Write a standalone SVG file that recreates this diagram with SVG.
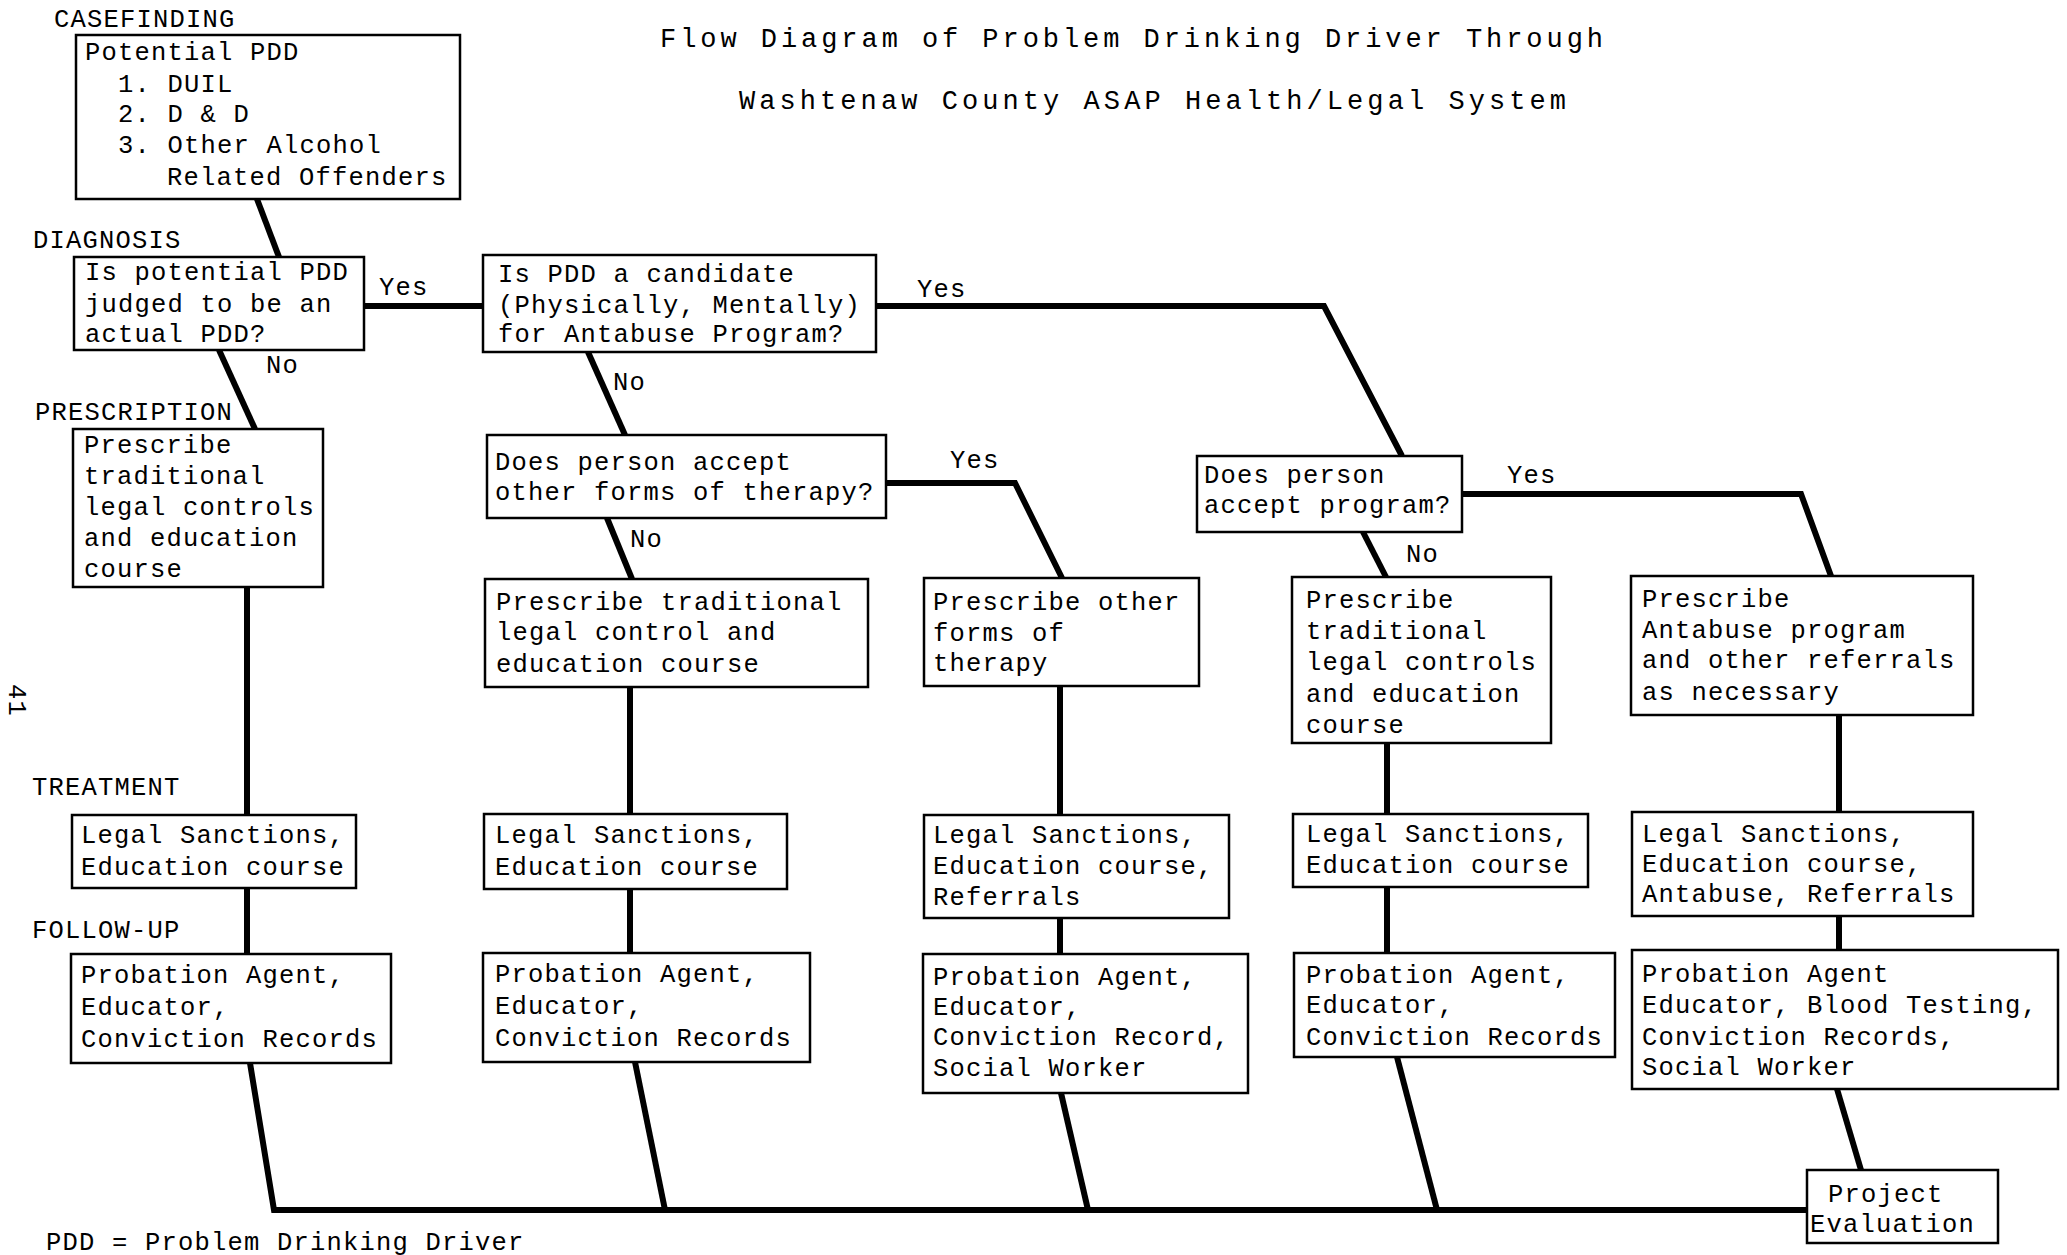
<svg xmlns="http://www.w3.org/2000/svg" width="2067" height="1255" viewBox="0 0 2067 1255">
<style>
.t{font-family:"Liberation Mono","DejaVu Sans Mono",monospace;font-size:25.5px;letter-spacing:1.2px;fill:#000}
.ttl{font-family:"Liberation Mono","DejaVu Sans Mono",monospace;font-size:27px;fill:#000}
.box{fill:#fff;stroke:#000;stroke-width:2.5}
.c{fill:none;stroke:#000;stroke-width:6;stroke-linejoin:miter;stroke-linecap:butt}
</style>
<rect width="2067" height="1255" fill="#fff"/>
<g id="title">
<text class="ttl" x="660" y="47" textLength="943" lengthAdjust="spacing">Flow Diagram of Problem Drinking Driver Through</text>
<text class="ttl" x="739" y="109" textLength="827" lengthAdjust="spacing">Washtenaw County ASAP Health/Legal System</text>
</g>
<g id="stage-labels">
<text class="t" x="54" y="27">CASEFINDING</text>
<text class="t" x="33" y="248">DIAGNOSIS</text>
<text class="t" x="35" y="420">PRESCRIPTION</text>
<text class="t" x="32" y="795">TREATMENT</text>
<text class="t" x="32" y="938">FOLLOW-UP</text>
<text class="t" x="46" y="1250">PDD = Problem Drinking Driver</text>
<text class="t" transform="translate(9,684) rotate(90)">41</text>
</g>
<g id="connectors">
<polyline class="c" points="257,199 279,257"/>
<polyline class="c" points="364,306 483,306"/>
<polyline class="c" points="219,350 255,429"/>
<polyline class="c" points="876,306 1324,306 1402,456"/>
<polyline class="c" points="588,352 625,435"/>
<polyline class="c" points="886,483 1015,483 1062,578"/>
<polyline class="c" points="607,518 632,579"/>
<polyline class="c" points="1462,494 1801,494 1831,576"/>
<polyline class="c" points="1363,532 1386,577"/>
<line class="c" x1="247" y1="587" x2="247" y2="954"/>
<line class="c" x1="630" y1="687" x2="630" y2="953"/>
<line class="c" x1="1060" y1="686" x2="1060" y2="954"/>
<line class="c" x1="1387" y1="743" x2="1387" y2="953"/>
<line class="c" x1="1839" y1="715" x2="1839" y2="950"/>
<polyline class="c" points="250,1063 274,1210 1807,1210"/>
<polyline class="c" points="635,1062 665,1210"/>
<polyline class="c" points="1061,1093 1088,1210"/>
<polyline class="c" points="1397,1057 1437,1210"/>
<polyline class="c" points="1837,1089 1861,1170"/>
<text class="t" x="379" y="295">Yes</text>
<text class="t" x="917" y="297">Yes</text>
<text class="t" x="950" y="468">Yes</text>
<text class="t" x="1507" y="483">Yes</text>
<text class="t" x="266" y="373">No</text>
<text class="t" x="613" y="390">No</text>
<text class="t" x="630" y="547">No</text>
<text class="t" x="1406" y="562">No</text>
</g>
<g id="potential-pdd">
<rect class="box" x="76" y="35" width="384" height="164"/>
<text class="t" x="85" y="60">Potential PDD</text>
<text class="t" x="118" y="92">1. DUIL</text>
<text class="t" x="118" y="122">2. D &amp; D</text>
<text class="t" x="118" y="153">3. Other Alcohol</text>
<text class="t" x="167" y="185">Related Offenders</text>
</g>
<g id="diagnosis-q">
<rect class="box" x="74" y="257" width="290" height="93"/>
<text class="t" x="85" y="280">Is potential PDD</text>
<text class="t" x="85" y="312">judged to be an</text>
<text class="t" x="85" y="342">actual PDD?</text>
</g>
<g id="candidate-q">
<rect class="box" x="483" y="255" width="393" height="97"/>
<text class="t" x="498" y="282">Is PDD a candidate</text>
<text class="t" x="498" y="313">(Physically, Mentally)</text>
<text class="t" x="498" y="342">for Antabuse Program?</text>
</g>
<g id="other-therapy-q">
<rect class="box" x="487" y="435" width="399" height="83"/>
<text class="t" x="495" y="470">Does person accept</text>
<text class="t" x="495" y="500">other forms of therapy?</text>
</g>
<g id="accept-program-q">
<rect class="box" x="1197" y="456" width="265" height="76"/>
<text class="t" x="1204" y="483">Does person</text>
<text class="t" x="1204" y="513">accept program?</text>
</g>
<g id="rx-col1">
<rect class="box" x="73" y="429" width="250" height="158"/>
<text class="t" x="84" y="453">Prescribe</text>
<text class="t" x="84" y="484">traditional</text>
<text class="t" x="84" y="515">legal controls</text>
<text class="t" x="84" y="546">and education</text>
<text class="t" x="84" y="577">course</text>
</g>
<g id="rx-col2">
<rect class="box" x="485" y="579" width="383" height="108"/>
<text class="t" x="496" y="610">Prescribe traditional</text>
<text class="t" x="496" y="640">legal control and</text>
<text class="t" x="496" y="672">education course</text>
</g>
<g id="rx-col3">
<rect class="box" x="924" y="578" width="275" height="108"/>
<text class="t" x="933" y="610">Prescribe other</text>
<text class="t" x="933" y="641">forms of</text>
<text class="t" x="933" y="671">therapy</text>
</g>
<g id="rx-col4">
<rect class="box" x="1292" y="577" width="259" height="166"/>
<text class="t" x="1306" y="608">Prescribe</text>
<text class="t" x="1306" y="639">traditional</text>
<text class="t" x="1306" y="670">legal controls</text>
<text class="t" x="1306" y="702">and education</text>
<text class="t" x="1306" y="733">course</text>
</g>
<g id="rx-col5">
<rect class="box" x="1631" y="576" width="342" height="139"/>
<text class="t" x="1642" y="607">Prescribe</text>
<text class="t" x="1642" y="638">Antabuse program</text>
<text class="t" x="1642" y="668">and other referrals</text>
<text class="t" x="1642" y="700">as necessary</text>
</g>
<g id="tx-col1">
<rect class="box" x="72" y="815" width="284" height="73"/>
<text class="t" x="81" y="843">Legal Sanctions,</text>
<text class="t" x="81" y="875">Education course</text>
</g>
<g id="tx-col2">
<rect class="box" x="484" y="814" width="303" height="75"/>
<text class="t" x="495" y="843">Legal Sanctions,</text>
<text class="t" x="495" y="875">Education course</text>
</g>
<g id="tx-col3">
<rect class="box" x="924" y="815" width="305" height="103"/>
<text class="t" x="933" y="843">Legal Sanctions,</text>
<text class="t" x="933" y="874">Education course,</text>
<text class="t" x="933" y="905">Referrals</text>
</g>
<g id="tx-col4">
<rect class="box" x="1293" y="814" width="295" height="73"/>
<text class="t" x="1306" y="842">Legal Sanctions,</text>
<text class="t" x="1306" y="873">Education course</text>
</g>
<g id="tx-col5">
<rect class="box" x="1632" y="812" width="341" height="104"/>
<text class="t" x="1642" y="842">Legal Sanctions,</text>
<text class="t" x="1642" y="872">Education course,</text>
<text class="t" x="1642" y="902">Antabuse, Referrals</text>
</g>
<g id="fu-col1">
<rect class="box" x="71" y="954" width="320" height="109"/>
<text class="t" x="81" y="983">Probation Agent,</text>
<text class="t" x="81" y="1015">Educator,</text>
<text class="t" x="81" y="1047">Conviction Records</text>
</g>
<g id="fu-col2">
<rect class="box" x="483" y="953" width="327" height="109"/>
<text class="t" x="495" y="982">Probation Agent,</text>
<text class="t" x="495" y="1014">Educator,</text>
<text class="t" x="495" y="1046">Conviction Records</text>
</g>
<g id="fu-col3">
<rect class="box" x="923" y="954" width="325" height="139"/>
<text class="t" x="933" y="985">Probation Agent,</text>
<text class="t" x="933" y="1015">Educator,</text>
<text class="t" x="933" y="1045">Conviction Record,</text>
<text class="t" x="933" y="1076">Social Worker</text>
</g>
<g id="fu-col4">
<rect class="box" x="1294" y="953" width="321" height="104"/>
<text class="t" x="1306" y="983">Probation Agent,</text>
<text class="t" x="1306" y="1013">Educator,</text>
<text class="t" x="1306" y="1045">Conviction Records</text>
</g>
<g id="fu-col5">
<rect class="box" x="1632" y="950" width="426" height="139"/>
<text class="t" x="1642" y="982">Probation Agent</text>
<text class="t" x="1642" y="1013">Educator, Blood Testing,</text>
<text class="t" x="1642" y="1045">Conviction Records,</text>
<text class="t" x="1642" y="1075">Social Worker</text>
</g>
<g id="project-evaluation">
<rect class="box" x="1807" y="1170" width="191" height="73"/>
<text class="t" x="1828" y="1202">Project</text>
<text class="t" x="1810" y="1232">Evaluation</text>
</g>
</svg>
